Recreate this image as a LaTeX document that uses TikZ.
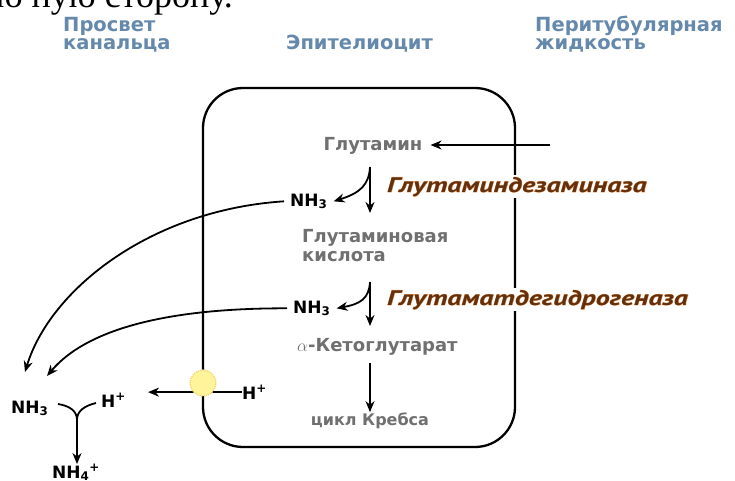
\documentclass[tikz,border=0pt]{standalone}
\usepackage{fontspec}
\setmainfont{DejaVu Sans}
\newfontfamily\enzfont{PT Sans}[FakeStretch=1.33]
\newfontfamily\pagefont{Liberation Serif}
\usetikzlibrary{arrows.meta}
\definecolor{hdrblue}{HTML}{6589AC}
\definecolor{txtgray}{HTML}{707070}
\definecolor{enzbrown}{HTML}{62300F}
\definecolor{enzglow}{HTML}{F0A060}
\definecolor{pumpfill}{HTML}{FFF49A}
\definecolor{pumpedge}{HTML}{F2D36B}
\newcommand\glowtxt[1]{\makebox[0pt][l]{\color{enzglow}\addfontfeature{FakeBold=3}#1}#1}
\begin{document}
\begin{tikzpicture}[x=1pt,y=-1pt,
  hdr/.style={font=\fontsize{19.5}{19.5}\selectfont\bfseries, text=hdrblue, inner sep=0pt, anchor=base west},
  met/.style={font=\fontsize{18}{18}\selectfont\bfseries, text=txtgray, inner sep=0pt},
  chem/.style={font=\fontsize{17}{17}\selectfont\bfseries, text=black, inner sep=0pt},
  enz/.style={font=\enzfont\fontsize{21}{21}\selectfont\bfseries\itshape, text=enzbrown, fill=white, inner sep=2pt, anchor=base west},
  arr/.style={-{Stealth[length=11pt,width=9pt]}, line width=1.8pt},
  wire/.style={line width=1.8pt},
]
\useasboundingbox (0,0) rectangle (735,481);
\clip (0,0) rectangle (735,481);
\fill[white] (0,0) rectangle (735,481);

% page fragment
\node[font=\pagefont\fontsize{36}{36}\selectfont, anchor=base east, inner sep=0pt] (pagefrag) at (233,8) {ю ную сторону.};

% headers
\node[hdr] (lumA) at (63,32) {Просвет};
\node[hdr] (lumB) at (63,50) {канальца};
\node[hdr] (cellhdr) at (286,50) {Эпителиоцит};
\node[hdr] (periA) at (535,32) {Перитубулярная};
\node[hdr] (periB) at (535,50) {жидкость};

% cell
\node[draw, line width=2.3pt, rounded corners=40pt, minimum width=312pt, minimum height=359pt, inner sep=0pt] (cell) at (359,267.5) {};

\coordinate (axis) at (370,0);

% glutamine
\node[met, anchor=base, inner xsep=8pt] (glu) at (373,151) {Глутамин};
\coordinate (perisrc) at (550,145);
\draw[arr] (perisrc) -- (perisrc -| glu.east);

% step 1
\node[chem, anchor=base west, inner xsep=6pt] (nh3a) at (284,206) {NH\textsubscript{3}};
\coordinate (s1top) at (370,167);
\coordinate (s1bot) at (370,213);
\draw[arr] (s1top) -- (s1bot);
\draw[arr] (s1top) .. controls (369,185) and (360,193) .. (nh3a.east);

\node[met, anchor=base west] (glaA) at (302,242) {Глутаминовая};
\node[met, anchor=base west] (glaB) at (302,261) {кислота};

% step 2
\node[chem, anchor=base west, inner xsep=6pt] (nh3b) at (287,313) {NH\textsubscript{3}};
\coordinate (s2top) at (370,282);
\coordinate (s2bot) at (370,326);
\draw[arr] (s2top) -- (s2bot);
\draw[arr] (s2top) .. controls (369,299) and (360,304) .. (nh3b.east);

\node[met, anchor=base west] (akg) at (297,351) {$\alpha$-Кетоглутарат};
\node[met, font=\fontsize{16}{16}\selectfont\bfseries, anchor=base] (krebs) at (370,425) {цикл Кребса};
\coordinate (s3top) at (370,363);
\draw[arr] (s3top) -- (krebs.north -| axis);

% lumen side
\node[chem, anchor=base west] (nh3c) at (11,413) {NH\textsubscript{3}};
\node[chem, anchor=base west] (hl) at (101,407) {H\textsuperscript{+}};
\node[chem, anchor=base west] (nh4) at (52,478) {NH\textsubscript{4}\textsuperscript{+}};
\coordinate (endA) at (25,372);
\coordinate (endB) at (47,376);
\draw[arr] (nh3a.west) .. controls (150,210) and (50,290) .. (endA);
\draw[arr] (nh3b.west) .. controls (180,308) and (90,325) .. (endB);

\coordinate (vl) at (58,404);
\coordinate (vr) at (96,403);
\coordinate (vm) at (77,420);
\draw[wire] (vl) .. controls (70,406) and (77,411) .. (vm);
\draw[wire] (vr) .. controls (84,406) and (77,411) .. (vm);
\draw[arr] (vm) -- (nh4.north -| vm);

% transporter
\node[chem, anchor=base west] (hr) at (242,399) {H\textsuperscript{+}};
\coordinate (htip) at (148,393);
\draw[arr] (hr.west) -- (hr.west -| htip);
\node[circle, fill=pumpfill, draw=pumpedge, densely dotted, line width=1.2pt, minimum size=26pt, inner sep=0pt] (pump) at (203,383) {};

% enzymes
\node[enz] (enzA) at (385,192) {\glowtxt{Глутаминдезаминаза}};
\node[enz] (enzB) at (385,305) {\glowtxt{Глутаматдегидрогеназа}};
\end{tikzpicture}
\end{document}
